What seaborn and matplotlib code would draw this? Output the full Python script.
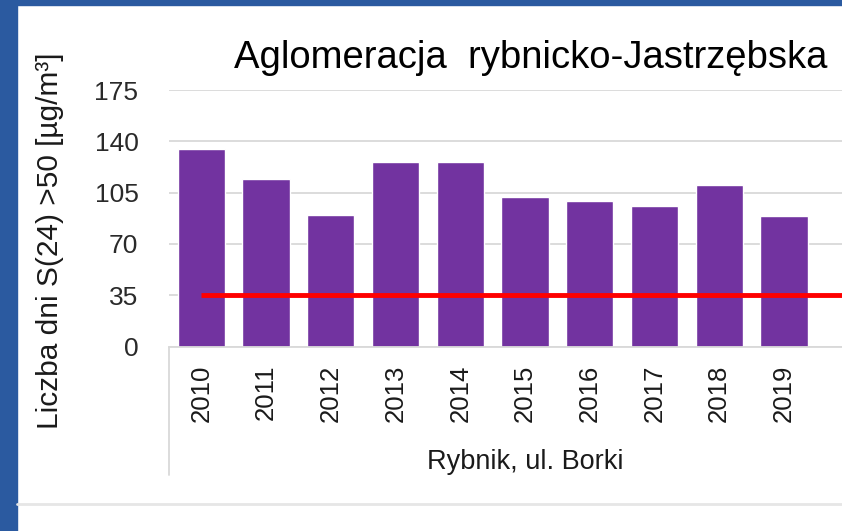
import matplotlib
matplotlib.use("Agg")
import matplotlib.pyplot as plt
import seaborn as sns
import pandas as pd
from matplotlib.patches import Rectangle
from matplotlib.lines import Line2D

# data
years = ["2010", "2011", "2012", "2013", "2014", "2015", "2016", "2017", "2018", "2019"]
days = [135, 114, 90, 126, 126, 102, 99, 96, 110, 89]
limit = 35
yticks = [0, 35, 70, 105, 140, 175]
title = "Aglomeracja  rybnicko-Jastrzębska"
ylabel = "Liczba dni S(24) >50 [µg/m³]"
station = "Rybnik, ul. Borki"

sns.set_theme(style="white")
plt.rcParams["font.family"] = ["Liberation Sans", "DejaVu Sans"]

df = pd.DataFrame({"year": years, "days": days})

fig = plt.figure(figsize=(8.42, 5.31), dpi=100)
fig.patch.set_facecolor("white")

# blue frame on left and top
blue = "#2B5AA0"
fig.patches.append(Rectangle((0, 0), 17 / 842, 1, transform=fig.transFigure, color=blue, zorder=0))
fig.patches.append(Rectangle((0, 1 - 5 / 531), 1, 5 / 531, transform=fig.transFigure, color=blue, zorder=0))
fig.lines.append(Line2D([17 / 842, 1], [1 - 504 / 531] * 2, transform=fig.transFigure, color="#E6E6E6", lw=2))

# axes runs past the right edge (one more category is cut off in the source)
ax = fig.add_axes([169 / 842, 1 - 346.5 / 531, 712 / 842, 256.5 / 531])
sns.barplot(data=df, x="year", y="days", color="#7233A0", saturation=1, width=0.73, ax=ax, zorder=2)
ax.hlines(limit, 0, len(years) + 1, color="#FF0000", lw=3.5, zorder=3)

ax.set_xlim(-0.5, len(years) + 0.5)
ax.set_ylim(0, 175)
ax.set_yticks(yticks)
ax.yaxis.grid(True, color="#D9D9D9", lw=1.3)
ax.set_axisbelow(True)
sns.despine(ax=ax, left=True, right=True, top=True)
ax.spines["bottom"].set_color("#D9D9D9")
ax.spines["bottom"].set_linewidth(1.3)
ax.tick_params(axis="y", length=0, pad=22, labelsize=19, labelcolor="#2a2a2a")
ax.tick_params(axis="x", length=0, pad=13, labelsize=18.5, labelcolor="#1a1a1a", labelrotation=90)
ax.set_xlabel("")
ax.set_ylabel("")

# category group box line and group label
ax.plot([0, 0], [0, -0.50], transform=ax.transAxes, color="#D9D9D9", lw=1.3, clip_on=False)
ax.text(0.5, -0.45, station, transform=ax.transAxes, ha="center", va="center", fontsize=19.5, color="#1a1a1a")

fig.text(50 / 842, 1 - 241 / 531, ylabel, rotation=90, ha="center", va="center", fontsize=21.5, color="#1a1a1a")
fig.text(531 / 842, 1 - 58 / 531, title, ha="center", va="center", fontsize=27.5, color="#000000")

fig.savefig("out.png", dpi=100)
